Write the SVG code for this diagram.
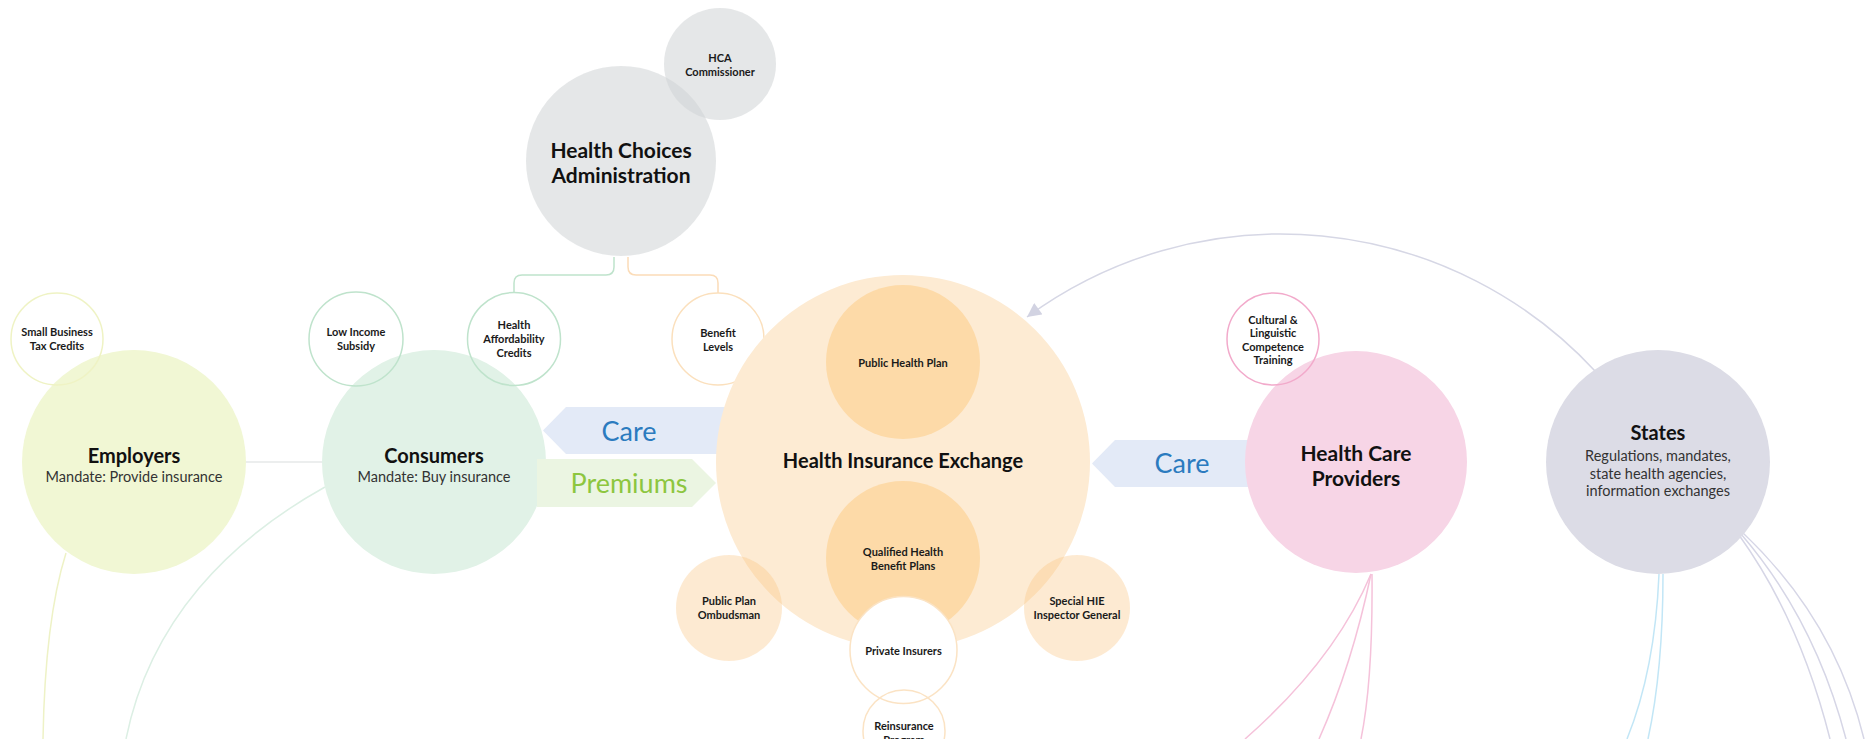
<svg xmlns="http://www.w3.org/2000/svg" width="1873" height="739" viewBox="0 0 1873 739">
<defs>
<style>
text{font-family:Lato,"Open Sans","Liberation Sans",sans-serif;text-anchor:middle}
.big{font-size:20px;font-weight:700;fill:#111}
.sub{font-size:14.5px;fill:#333}
.sm{font-size:11px;font-weight:700;fill:#1a1a1a}
.flow{font-size:27px}
.line{fill:none;stroke-width:1.5}
.ring{fill:none;stroke-width:1.5}
</style>
<marker id="arr" viewBox="0 0 10 10" refX="10" refY="5" markerWidth="15" markerHeight="14" markerUnits="userSpaceOnUse" orient="auto">
<path d="M0,0 L10,5 L0,10 z" fill="#d2d3e2"/>
</marker>
</defs>
<rect width="1873" height="739" fill="#fff"/>
<g id="connectors">
<path class="line" stroke="#bfe3cc" d="M614,257 V267 Q614,275 606,275 H522 Q514,275 514,283 V293"/>
<path class="line" stroke="#fbdcb8" d="M628,257 V267 Q628,275 636,275 H710 Q718,275 718,283 V293"/>
<path class="line" stroke="#e6e8e8" d="M246,462 H322"/>
<path class="line" stroke="#eef2c6" d="M66,553 Q45,620 43,739"/>
<path class="line" stroke="#dcefe4" d="M325,487 C230,540 150,620 126,739"/>
<path class="line" stroke="#f5c2da" d="M1371,574 Q1335,660 1245,739"/>
<path class="line" stroke="#f5c2da" d="M1371,574 Q1352,665 1319,739"/>
<path class="line" stroke="#f5c2da" d="M1372,574 Q1373,680 1361,739"/>
<path class="line" stroke="#c2e6f6" d="M1659,574 Q1655,670 1627,739"/>
<path class="line" stroke="#c2e6f6" d="M1663,574 Q1663,670 1648,739"/>
<path class="line" stroke="#d6d6e6" d="M1739,535 Q1800,620 1830,739"/>
<path class="line" stroke="#d6d6e6" d="M1741,534 Q1815,620 1846,739"/>
<path class="line" stroke="#d6d6e6" d="M1743,533 Q1835,620 1864,739"/>
<path class="line" stroke="#d6d7e5" d="M1596,372 A429,429 0 0 0 1027,317" marker-end="url(#arr)"/>
</g>
<g id="hca">
<circle cx="621" cy="161" r="95" fill="#cfd3d6" fill-opacity="0.55"/>
<text class="big" x="621" y="158" style="font-size:21px">Health Choices</text>
<text class="big" x="621" y="183" style="font-size:21px">Administration</text>
</g>
<g id="hca-commissioner">
<circle cx="720" cy="64" r="56" fill="#cfd3d6" fill-opacity="0.55"/>
<text class="sm" x="720" y="62">HCA</text>
<text class="sm" x="720" y="75.5">Commissioner</text>
</g>
<g id="employers">
<circle cx="134" cy="462" r="112" fill="#f1f7d4"/>
<text class="big" x="134" y="463">Employers</text>
<text class="sub" x="134" y="482">Mandate: Provide insurance</text>
</g>
<g id="small-business">
<circle class="ring" cx="57" cy="339" r="46" stroke="#eff3c4"/>
<text class="sm" x="57" y="336">Small Business</text>
<text class="sm" x="57" y="349.5">Tax Credits</text>
</g>
<g id="consumers">
<circle cx="434" cy="462" r="112" fill="#e1f2e7"/>
<text class="big" x="434" y="463">Consumers</text>
<text class="sub" x="434" y="482">Mandate: Buy insurance</text>
</g>
<g id="low-income">
<circle class="ring" cx="356" cy="339" r="47" stroke="#bfe3cc"/>
<text class="sm" x="356" y="336">Low Income</text>
<text class="sm" x="356" y="349.5">Subsidy</text>
</g>
<g id="affordability">
<circle class="ring" cx="514" cy="339" r="46.5" stroke="#bfe3cc"/>
<text class="sm" x="514" y="329">Health</text>
<text class="sm" x="514" y="343">Affordability</text>
<text class="sm" x="514" y="356.5">Credits</text>
</g>
<g id="flows">
<polygon points="543,430.5 566,407 730,407 730,454 566,454" fill="#e3eaf7"/>
<text class="flow" x="629" y="440.5" fill="#2b7bbf">Care</text>
<polygon points="537,459 692,459 716,483 692,507 537,507" fill="#ebf5e2"/>
<text class="flow" x="629" y="493" fill="#8dc63f">Premiums</text>
<polygon points="1092,463.5 1115,440 1255,440 1255,487 1115,487" fill="#e3eaf7"/>
<text class="flow" x="1182" y="473" fill="#2b7bbf">Care</text>
</g>
<g id="benefit-levels">
<circle class="ring" cx="718" cy="339" r="46" stroke="#fbe0bd"/>
<text class="sm" x="718" y="337">Benefit</text>
<text class="sm" x="718" y="350.5">Levels</text>
</g>
<g id="exchange">
<circle cx="903" cy="462" r="187" fill="#fdebd3"/>
<text class="big" x="903" y="468">Health Insurance Exchange</text>
</g>
<g id="public-plan">
<circle cx="903" cy="362" r="77" fill="#fddaa8"/>
<text class="sm" x="903" y="367">Public Health Plan</text>
</g>
<g id="qualified-plans">
<circle cx="903" cy="558" r="77" fill="#fddaa8"/>
<text class="sm" x="903" y="556">Qualified Health</text>
<text class="sm" x="903" y="569.5">Benefit Plans</text>
</g>
<g id="ombudsman">
<circle cx="729" cy="608" r="53" fill="#f9c27a" fill-opacity="0.34"/>
<text class="sm" x="729" y="605">Public Plan</text>
<text class="sm" x="729" y="619">Ombudsman</text>
</g>
<g id="inspector">
<circle cx="1077" cy="608" r="53" fill="#f9c27a" fill-opacity="0.34"/>
<text class="sm" x="1077" y="605">Special HIE</text>
<text class="sm" x="1077" y="619">Inspector General</text>
</g>
<g id="private-insurers">
<circle cx="903.5" cy="650" r="53.5" fill="#fff" stroke="#fbe3c4" stroke-width="1.5"/>
<text class="sm" x="903.5" y="655">Private Insurers</text>
</g>
<g id="reinsurance">
<circle class="ring" cx="904" cy="731" r="41" stroke="#fbe3c4"/>
<text class="sm" x="904" y="730">Reinsurance</text>
<text class="sm" x="904" y="743.5">Program</text>
</g>
<g id="providers">
<circle cx="1356" cy="462" r="111" fill="#f7d5e6"/>
<text class="big" x="1356" y="460.5" style="font-size:21px">Health Care</text>
<text class="big" x="1356" y="486" style="font-size:21px">Providers</text>
</g>
<g id="cultural">
<circle class="ring" cx="1273" cy="339" r="46" stroke="#f2aacb"/>
<text class="sm" x="1273" y="323.5">Cultural &amp;</text>
<text class="sm" x="1273" y="337">Linguistic</text>
<text class="sm" x="1273" y="350.5">Competence</text>
<text class="sm" x="1273" y="364">Training</text>
</g>
<g id="states">
<circle cx="1658" cy="462" r="112" fill="#dcdce6"/>
<text class="big" x="1658" y="440">States</text>
<text class="sub" x="1658" y="461">Regulations, mandates,</text>
<text class="sub" x="1658" y="478.5">state health agencies,</text>
<text class="sub" x="1658" y="496">information exchanges</text>
</g>
</svg>
